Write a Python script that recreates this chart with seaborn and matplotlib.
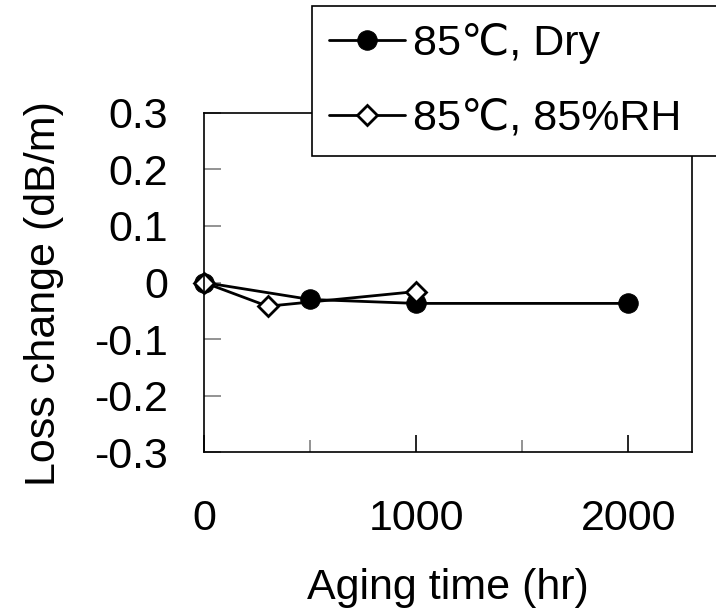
import matplotlib
matplotlib.use('Agg')
import matplotlib.pyplot as plt
import seaborn as sns
from matplotlib.ticker import MultipleLocator, FixedLocator

# data
dry_time = [0, 500, 1000, 2000]
dry_loss = [0.0, -0.030, -0.037, -0.037]
wet_time = [0, 300, 1000]
wet_loss = [0.0, -0.042, -0.016]
labels = ['85℃, Dry', '85℃, 85%RH']
y_ticks = [-0.3, -0.2, -0.1, 0, 0.1, 0.2, 0.3]
y_ticklabels = ['-0.3', '-0.2', '-0.1', '0', '0.1', '0.2', '0.3']
x_ticks = [0, 1000, 2000]

sns.set_style('white')
plt.rcParams['font.family'] = ['Liberation Sans', 'DejaVu Sans']
plt.rcParams['text.color'] = 'black'
plt.rcParams['axes.labelcolor'] = 'black'

fs = 31

fig = plt.figure(figsize=(7.16, 6.13), dpi=100)
ax = fig.add_axes([0.2849, 0.2626, 0.6816, 0.5531])

sns.lineplot(x=dry_time, y=dry_loss, ax=ax, color='black', lw=2,
             marker='o', markersize=14, markerfacecolor='black',
             markeredgecolor='black', label=labels[0], clip_on=False)
sns.lineplot(x=wet_time, y=wet_loss, ax=ax, color='black', lw=2,
             marker='D', markersize=10, markerfacecolor='white',
             markeredgecolor='black', markeredgewidth=2, label=labels[1],
             clip_on=False)

ax.set_xlim(0, 2300)
ax.set_ylim(-0.3, 0.3)
ax.xaxis.set_major_locator(FixedLocator(x_ticks))
ax.xaxis.set_minor_locator(MultipleLocator(500))
ax.set_yticks(y_ticks)
ax.set_yticklabels(y_ticklabels)

for sp in ax.spines.values():
    sp.set_color('black')
    sp.set_linewidth(1.2)

ax.tick_params(axis='x', which='major', direction='in', length=12, width=1.2,
               color='black', labelcolor='black', labelsize=fs, pad=34,
               bottom=True)
ax.tick_params(axis='x', which='minor', direction='in', length=9, width=1.2,
               color='#808080', bottom=True)
ax.tick_params(axis='y', which='major', direction='in', length=12, width=1.2,
               color='#808080', labelcolor='black', labelsize=fs, pad=26,
               left=True)

ax.set_xlabel('Aging time (hr)', fontsize=fs, labelpad=21)
ax.set_ylabel('Loss change (dB/m)', fontsize=fs)
ax.yaxis.set_label_coords(-0.287, 0.466)

handles, lbls = ax.get_legend_handles_labels()
ax.get_legend().remove()
leg = fig.legend(handles, lbls, loc='upper left', mode='expand',
                 bbox_to_anchor=(0.4358, 0.0, 0.62, 0.990),
                 fontsize=fs, frameon=True, fancybox=False, shadow=False,
                 framealpha=1, edgecolor='black', borderpad=0.4,
                 labelspacing=0.8, handlelength=1.75, handletextpad=0.2,
                 borderaxespad=0)
leg.get_frame().set_linewidth(1.2)

fig.savefig('out.png', dpi=100)
